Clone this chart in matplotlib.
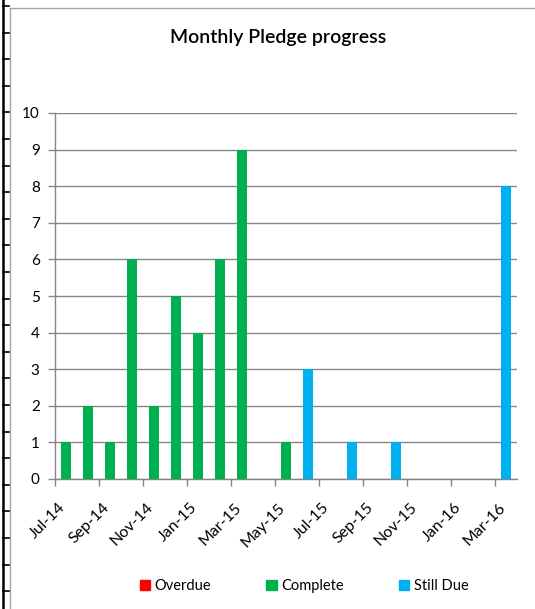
import numpy as np
import matplotlib
matplotlib.use('Agg')
from matplotlib import pyplot as plt
from matplotlib.patches import Patch
from matplotlib.lines import Line2D
from matplotlib.transforms import ScaledTranslation

plt.rcParams['font.family'] = ['Lato', 'DejaVu Sans']

# Monthly data
months = ['Jul-14', 'Aug-14', 'Sep-14', 'Oct-14', 'Nov-14', 'Dec-14', 'Jan-15',
          'Feb-15', 'Mar-15', 'Apr-15', 'May-15', 'Jun-15', 'Jul-15', 'Aug-15',
          'Sep-15', 'Oct-15', 'Nov-15', 'Dec-15', 'Jan-16', 'Feb-16', 'Mar-16']
overdue = [0] * 21
complete = [1, 2, 1, 6, 2, 5, 4, 6, 9, 0, 1, 0, 0, 0, 0, 0, 0, 0, 0, 0, 0]
still_due = [0, 0, 0, 0, 0, 0, 0, 0, 0, 0, 0, 3, 0, 1, 0, 1, 0, 0, 0, 0, 8]

W, H = 535, 609
fig = plt.figure(figsize=(W / 100, H / 100), dpi=100)
ax = fig.add_axes([55 / W, 1 - 479 / H, (517 - 55) / W, (479 - 113) / H])

grey = '#868686'
x = np.arange(len(months))
bw = 0.45
ax.bar(x, overdue, bw, color='#FF0000', zorder=3)
ax.bar(x, complete, bw, bottom=overdue, color='#00B050', zorder=3)
bottom2 = np.array(overdue) + np.array(complete)
ax.bar(x, still_due, bw, bottom=bottom2, color='#00B0F0', zorder=3)

ax.set_xlim(-0.5, len(months) - 0.5)
ax.set_ylim(0, 10)
ax.set_yticks(range(0, 11))
ax.yaxis.grid(True, color=grey, linewidth=1)
ax.set_axisbelow(True)

# labels every 2 months, tick marks on the category boundaries
ax.set_xticks(x[::2])
ax.set_xticklabels(months[::2], rotation=45, ha='right', va='center',
                   rotation_mode='anchor', fontsize=11.5, color='#000000')
ax.tick_params(axis='x', length=0, pad=19)
shift = ScaledTranslation(-3 / 100, 0, fig.dpi_scale_trans)
for lab in ax.get_xticklabels():
    lab.set_transform(lab.get_transform() + shift)
ax.set_xticks(x[::2] - 0.5, minor=True)
ax.tick_params(axis='x', which='minor', length=5, color=grey, width=1)
ax.tick_params(axis='y', length=5, color=grey, width=1, labelsize=11, pad=6)

for s in ['top', 'right']:
    ax.spines[s].set_visible(False)
for s in ['left', 'bottom']:
    ax.spines[s].set_color(grey)
    ax.spines[s].set_linewidth(1)

fig.text(278 / W, 1 - 37 / H, 'Monthly Pledge progress', ha='center', va='center',
         fontsize=14, fontweight='semibold', color='#000000')

handles = [Patch(color='#FF0000', label='Overdue'),
           Patch(color='#00B050', label='Complete'),
           Patch(color='#00B0F0', label='Still Due')]
fig.legend(handles=handles, loc='center', bbox_to_anchor=(304 / W, 1 - 586 / H),
           ncol=3, frameon=False, fontsize=10.5, handlelength=0.7, handleheight=0.7,
           handletextpad=0.3, columnspacing=3.8)

# chart area border and sheet edge
fig.add_artist(Line2D([10 / W, 10 / W], [0, 1 - 8 / H], color='#a6a6a6', linewidth=1))
fig.add_artist(Line2D([10 / W, 1], [1 - 8 / H, 1 - 8 / H], color='#a6a6a6', linewidth=1))
fig.add_artist(Line2D([3 / W, 3 / W], [0, 1], color='black', linewidth=1.8))
for yy in np.arange(6, H, 26.6):
    fig.add_artist(Line2D([3 / W, 9 / W], [1 - yy / H, 1 - yy / H], color='black', linewidth=1.2))

fig.savefig('out.png', dpi=100, facecolor='white')
